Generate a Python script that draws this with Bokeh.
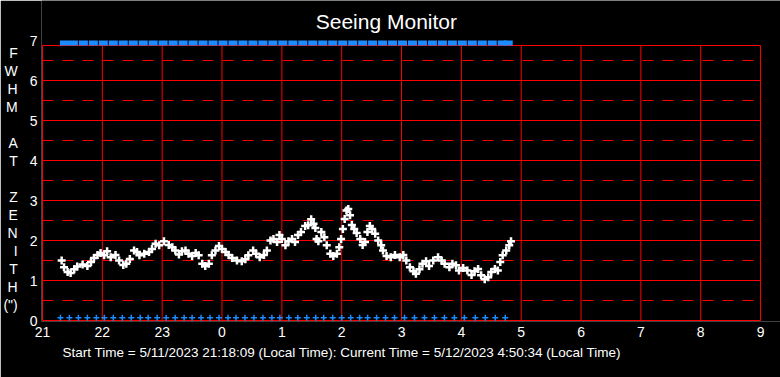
from bokeh.plotting import figure
from bokeh.models import Range1d, FixedTicker, ColumnDataSource, Title, Label
from bokeh.embed import file_html
from bokeh.resources import INLINE

# ---------------- data ----------------
# FWHM samples: time in hours since 0:00 of 5/11 (values > 24 are next day)
TIME_H = [21.32, 21.36, 21.42, 21.47, 21.53, 21.58, 21.67, 21.75, 21.81, 21.86,
          21.92, 21.97, 22.03, 22.08, 22.14, 22.22, 22.28, 22.35, 22.40, 22.46,
          22.53, 22.58, 22.62, 22.70, 22.78, 22.83, 22.89, 22.95, 23.03, 23.11,
          23.17, 23.22, 23.28, 23.33, 23.39, 23.44, 23.50, 23.56, 23.61, 23.67,
          23.72, 23.78, 23.83, 23.89, 23.95, 24.00, 24.06, 24.11, 24.17, 24.25,
          24.33, 24.39, 24.44, 24.52, 24.57, 24.63, 24.70, 24.75, 24.81, 24.86,
          24.92, 24.96, 25.00, 25.06, 25.11, 25.17, 25.22, 25.27, 25.32, 25.39,
          25.44, 25.49, 25.53, 25.56, 25.58, 25.61, 25.66, 25.71, 25.75, 25.81,
          25.86, 25.92, 25.96, 25.99, 26.02, 26.05, 26.08, 26.11, 26.14, 26.17,
          26.21, 26.25, 26.31, 26.35, 26.39, 26.43, 26.47, 26.51, 26.56, 26.61,
          26.66, 26.69, 26.75, 26.82, 26.89, 26.97, 27.03, 27.08, 27.14, 27.20,
          27.24, 27.30, 27.35, 27.41, 27.46, 27.53, 27.61, 27.67, 27.72, 27.80,
          27.85, 27.91, 27.96, 28.03, 28.10, 28.17, 28.22, 28.28, 28.33, 28.39,
          28.45, 28.50, 28.56, 28.61, 28.65, 28.69, 28.75, 28.80, 28.83]
FWHM = [1.50, 1.33, 1.21, 1.19, 1.28, 1.35, 1.40, 1.36, 1.46, 1.56,
        1.64, 1.69, 1.63, 1.73, 1.58, 1.64, 1.50, 1.39, 1.42, 1.54,
        1.75, 1.71, 1.63, 1.67, 1.71, 1.79, 1.92, 1.88, 1.98, 1.89,
        1.83, 1.75, 1.65, 1.73, 1.75, 1.67, 1.61, 1.69, 1.63, 1.42,
        1.36, 1.42, 1.63, 1.75, 1.86, 1.79, 1.71, 1.64, 1.56, 1.50,
        1.48, 1.53, 1.63, 1.75, 1.67, 1.58, 1.64, 1.75, 2.00, 2.04,
        1.96, 2.14, 2.04, 1.88, 1.98, 2.04, 1.96, 2.14, 2.21, 2.36,
        2.38, 2.53, 2.42, 2.31, 2.04, 1.98, 2.21, 2.08, 1.88, 1.67,
        1.61, 1.67, 1.83, 2.04, 2.29, 2.54, 2.75, 2.79, 2.63, 2.39,
        2.29, 2.19, 2.04, 1.89, 1.96, 2.21, 2.36, 2.29, 2.17, 2.00,
        1.88, 1.75, 1.61, 1.58, 1.64, 1.58, 1.64, 1.50, 1.33, 1.23,
        1.17, 1.28, 1.42, 1.48, 1.36, 1.50, 1.58, 1.50, 1.42, 1.33,
        1.42, 1.38, 1.25, 1.31, 1.25, 1.14, 1.23, 1.29, 1.13, 1.03,
        1.08, 1.21, 1.29, 1.25, 1.46, 1.63, 1.75, 1.88, 1.98]

# blue status marks (minutes after 21:00)
BOTTOM_MARK_MIN = [18, 27, 36, 45, 54, 62, 71, 80, 89, 98, 106, 115, 124, 133, 142,
                   150, 159, 168, 177, 186, 194, 203, 212, 221, 230, 238, 247, 256,
                   265, 274, 282, 291, 300, 309, 318, 326, 335, 344, 353, 363, 373,
                   383, 393, 403, 413, 423, 434, 444, 454, 464]
TOP_MARK_MIN = [22, 31, 41, 51, 61, 71, 81, 91, 101, 111, 121, 131, 141, 151, 161,
                171, 181, 191, 201, 211, 221, 231, 241, 251, 261, 271, 281, 291,
                301, 311, 321, 331, 341, 351, 361, 371, 381, 391, 401, 411, 421,
                431, 441, 451, 461, 467]
BOTTOM_MARK_VAL = 0.07
TOP_MARK_VAL = 6.94

HOUR_TICKS = [21, 22, 23, 24, 25, 26, 27, 28, 29, 30, 31, 32, 33]
HOUR_LABELS = ["21", "22", "23", "0", "1", "2", "3", "4", "5", "6", "7", "8", "9"]
Y_TICKS = [0, 1, 2, 3, 4, 5, 6, 7]
Y_SOLID = [0, 1, 2, 3, 4, 5, 6]
Y_DASHED = [0.5, 1.5, 2.5, 3.5, 4.5, 5.5, 6.5]
Y_TOP = 6.875

TITLE = "Seeing Monitor"
Y_LETTERS = ["F", "W", "H", "M", "", "A", "T", "", "Z", "E", "N", "I", "T", "H", "(\")"]
FOOTER = "Start Time = 5/11/2023  21:18:09  (Local Time):  Current Time = 5/12/2023  4:50:34  (Local Time)"

RED = "#ff0000"
BLUE = "#1a8cff"
FONT = "Liberation Sans"

# ---------------- figure ----------------
# the frame reaches the top and right canvas edges; the chart area itself ends at 9h / 6.875
X0, X1 = 21 - 1 / 60, 33 + 20 / 60
Y0, Y1 = -1 / 40, 8
p = figure(width=780, height=377, output_backend="svg", toolbar_location=None,
           x_range=Range1d(X0, X1), y_range=Range1d(Y0, Y1),
           min_border_left=39, min_border_right=0, min_border_top=0, min_border_bottom=56,
           background_fill_color="black", border_fill_color="black",
           outline_line_color=None)
p.xgrid.visible = False
p.ygrid.visible = False


def hx(px):
    return 21 + (px - 40) / 60


def vy(py):
    return (320 - py) / 40


# title (inside the frame area, above the chart), footer below
p.add_layout(Label(x=hx(314), y=vy(20.5), text=TITLE, text_align="left", text_baseline="alphabetic",
                   text_color="white", text_font=FONT, text_font_size="21px"))
p.add_layout(Title(text=FOOTER, align="left", offset=21, text_color="white", text_font=FONT,
                   text_font_size="13.5px", text_font_style="normal", standoff=6), "below")

# grid lines
p.segment(x0=[21] * len(Y_SOLID), y0=Y_SOLID, x1=[33] * len(Y_SOLID), y1=Y_SOLID,
          line_color=RED, line_width=1)
p.segment(x0=[21], y0=[Y_TOP], x1=[33], y1=[Y_TOP], line_color=RED, line_width=1)
p.segment(x0=[21] * len(Y_DASHED), y0=Y_DASHED, x1=[33] * len(Y_DASHED), y1=Y_DASHED,
          line_color=RED, line_width=1, line_dash="11 9")
p.segment(x0=HOUR_TICKS, y0=[0] * len(HOUR_TICKS), x1=HOUR_TICKS, y1=[Y_TOP] * len(HOUR_TICKS),
          line_color=RED, line_width=1)

# blue marks
p.scatter(x=[21 + m / 60 for m in TOP_MARK_MIN], y=[TOP_MARK_VAL] * len(TOP_MARK_MIN),
          marker="dash", size=9, line_color=BLUE, line_width=5)
p.scatter(x=[21 + m / 60 for m in BOTTOM_MARK_MIN], y=[BOTTOM_MARK_VAL] * len(BOTTOM_MARK_MIN),
          marker="cross", size=6, line_color=BLUE, line_width=1.5)

# data
src = ColumnDataSource(dict(t=TIME_H, v=FWHM))
p.scatter(x="t", y="v", source=src, marker="cross", size=8, line_color="white", line_width=2.5)

# axes
p.xaxis.ticker = FixedTicker(ticks=HOUR_TICKS)
p.xaxis.major_label_overrides = {t: l for t, l in zip(HOUR_TICKS, HOUR_LABELS)}
p.yaxis.ticker = FixedTicker(ticks=Y_TICKS)
for ax in (p.xaxis[0], p.yaxis[0]):
    ax.axis_line_color = None
    ax.major_tick_line_color = None
    ax.minor_tick_line_color = None
    ax.major_tick_out = 0
    ax.major_tick_in = 0
    ax.major_label_text_color = "white"
    ax.major_label_text_font = FONT
    ax.major_label_text_font_size = "14px"
p.xaxis.major_label_standoff = 5
p.yaxis.major_label_standoff = 4

ya = p.yaxis[0]
# two leading blank lines keep the stacked label centred where the original has it
ya.axis_label = "\n".join(["", ""] + Y_LETTERS)
ya.axis_label_orientation = "horizontal"
ya.axis_label_text_color = "white"
ya.axis_label_text_font = FONT
ya.axis_label_text_font_size = "14px"
ya.axis_label_text_font_style = "normal"
ya.axis_label_text_line_height = 1.123
ya.axis_label_standoff = 9

html = file_html(p, INLINE)
html = html.replace("<body>", '<body style="background-color: black;">', 1)
open("out.html", "w").write(html)
